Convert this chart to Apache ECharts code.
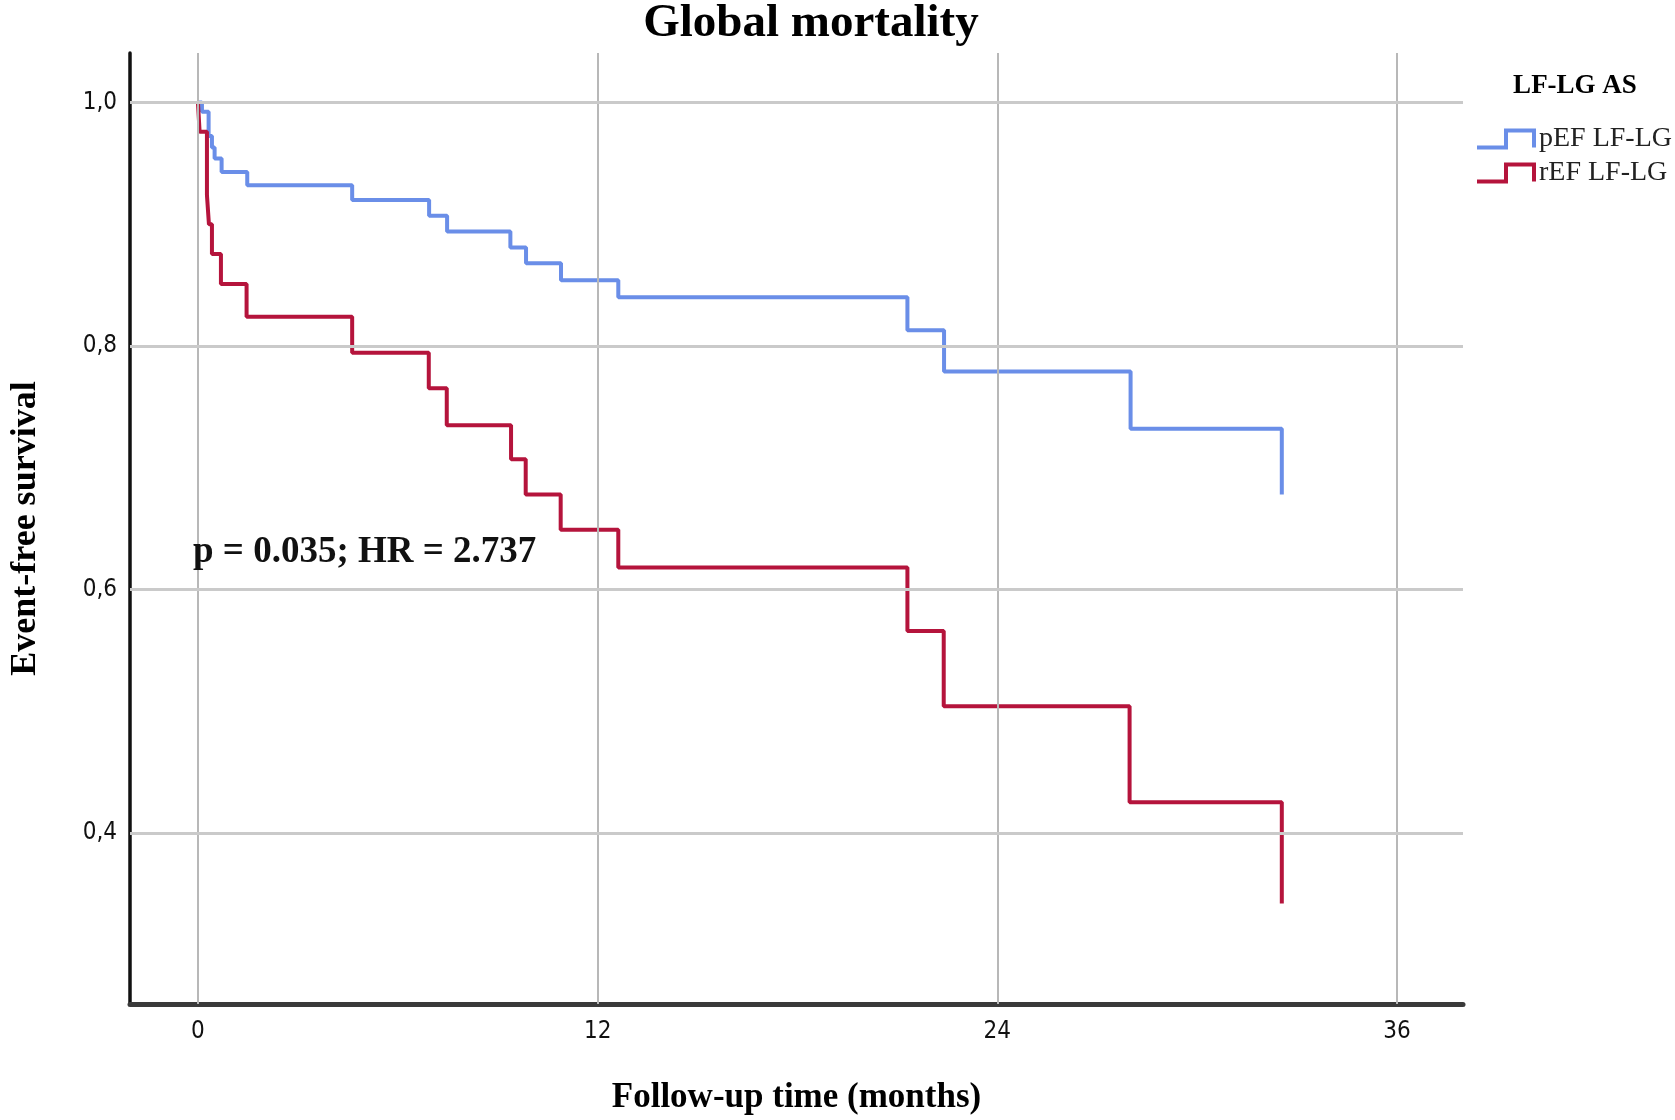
<!DOCTYPE html>
<html>
<head>
<meta charset="utf-8">
<script src="https://cdn.jsdelivr.net/npm/echarts@6/dist/echarts.min.js"></script>
<style>
html,body{margin:0;padding:0;background:#fff;}
#main{width:1675px;height:1120px;}
</style>
</head>
<body>
<div id="main"></div>
<script>
// Kaplan-Meier step points: [month, survival after the event]
const pefTimes = [0, 0.12, 0.32, 0.42, 0.5, 0.71, 1.48, 4.63, 6.94, 7.48, 9.38, 9.85, 10.9, 12.62, 21.3, 22.4, 28.0, 32.54];
const pefSurv  = [1.0, 0.9925, 0.9725, 0.963, 0.954, 0.943, 0.932, 0.920, 0.907, 0.894, 0.881, 0.868, 0.854, 0.840, 0.813, 0.779, 0.732, 0.678];

const refTimes = [0, 0.05, 0.27, 0.33, 0.42, 0.69, 1.46, 4.63, 6.93, 7.47, 9.4, 9.84, 10.89, 12.62, 21.3, 22.39, 27.97, 32.54];
const refSurv  = [1.0, 0.976, 0.924, 0.900, 0.8756, 0.851, 0.824, 0.7945, 0.7653, 0.735, 0.707, 0.678, 0.649, 0.618, 0.566, 0.504, 0.4253, 0.342];

const xTicks = [0, 12, 24, 36];
const yTicks = [0.4, 0.6, 0.8, 1.0];
const seriesNames = ['pEF LF-LG', 'rEF LF-LG'];
const seriesColors = ['#6a8ee8', '#b5143c'];

const pefData = pefTimes.map((t, i) => [t, pefSurv[i]]);
const refData = refTimes.map((t, i) => [t, refSurv[i]]);

const serif = '"Liberation Serif", "Times New Roman", serif';
const tickFont = '"DejaVu Sans Condensed", "DejaVu Sans", sans-serif';
const chart = echarts.init(document.getElementById('main'), null, {renderer: 'canvas'});

const gridMarks = xTicks.map(v => ({xAxis: v, lineStyle: {color: '#b8b8b8', width: 2, type: 'solid'}}))
  .concat(yTicks.map(v => ({yAxis: v, lineStyle: {color: '#cacaca', width: 3, type: 'solid'}})));

chart.setOption({
  backgroundColor: '#ffffff',
  animation: false,
  title: [
    {text: 'Global mortality', left: 806, top: -5, textAlign: 'center',
     textStyle: {fontFamily: serif, fontWeight: 'bold', fontSize: 47, color: '#000'}},
    {text: 'LF-LG AS', left: 1570, top: 68, textAlign: 'center',
     textStyle: {fontFamily: serif, fontWeight: 'bold', fontSize: 27, color: '#000'}}
  ],
  legend: {
    orient: 'vertical',
    left: 1470,
    top: 120,
    itemGap: 6,
    itemWidth: 57,
    itemHeight: 17,
    icon: 'path://M0,17 L29,17 L29,0 L57,0 L57,17',
    textStyle: {fontFamily: serif, fontSize: 28, color: '#222', padding: [0, 0, 0, 0]},
    data: seriesNames.map((n, i) => ({
      name: n,
      itemStyle: {color: 'transparent', borderColor: seriesColors[i], borderWidth: 4}
    }))
  },
  grid: {left: 117.5, right: 212, top: 53, bottom: 116, containLabel: false},
  xAxis: {
    type: 'value',
    min: -2.04,
    max: 37.98,
    name: 'Follow-up time (months)',
    nameLocation: 'middle',
    nameGap: 76,
    nameTextStyle: {fontFamily: serif, fontWeight: 'bold', fontSize: 35, color: '#000'},
    axisLine: {show: true, onZero: false, lineStyle: {color: '#3a3a3a', width: 5}},
    axisTick: {show: false},
    splitLine: {show: false},
    axisLabel: {customValues: xTicks, fontFamily: tickFont, fontSize: 24, color: '#111', margin: 16}
  },
  yAxis: {
    type: 'value',
    min: 0.2595,
    max: 1.0407,
    name: 'Event-free survival',
    nameLocation: 'middle',
    nameGap: 86,
    nameRotate: 90,
    nameTextStyle: {fontFamily: serif, fontWeight: 'bold', fontSize: 36, color: '#000'},
    axisLine: {show: true, onZero: false, lineStyle: {color: '#111', width: 3.5}},
    axisTick: {show: false},
    splitLine: {show: false},
    axisLabel: {customValues: yTicks, fontFamily: tickFont, fontSize: 24, color: '#111', margin: 13,
      formatter: v => v.toFixed(1).replace('.', ',')}
  },
  graphic: [
    {type: 'text', left: 193, top: 534, z: 10,
     style: {text: 'p = 0.035; HR = 2.737', font: 'bold 37px "Liberation Serif", serif', fill: '#111'}}
  ],
  series: [
    {type: 'line', name: '__grid', data: [], z: 1, silent: true,
     markLine: {silent: true, symbol: 'none', label: {show: false}, data: gridMarks, animation: false}},
    {type: 'line', name: seriesNames[0], data: pefData, step: 'end', showSymbol: false, symbol: 'none', z: 3,
     color: seriesColors[0], lineStyle: {color: seriesColors[0], width: 4}},
    {type: 'line', name: seriesNames[1], data: refData, step: 'end', showSymbol: false, symbol: 'none', z: 4,
     color: seriesColors[1], lineStyle: {color: seriesColors[1], width: 4}}
  ]
});
</script>
</body>
</html>
